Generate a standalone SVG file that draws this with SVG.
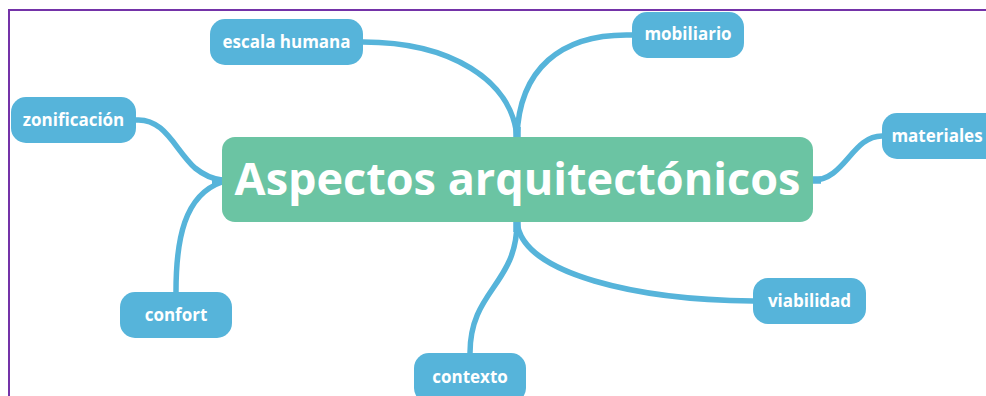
<svg xmlns="http://www.w3.org/2000/svg" width="986" height="396" viewBox="0 0 986 396">
<style>
.frame{stroke:#7433a8;stroke-width:2;fill:none}
.conn{fill:none;stroke:#56b4da;stroke-width:5.5;stroke-linecap:round}
.root{fill:none;stroke:#56b4da;stroke-width:7.5;stroke-linecap:butt}
.sub rect{fill:#56b4da}
.sub text{fill:#ffffff;font-family:"Open Sans","Noto Sans",sans-serif;font-weight:bold;font-size:17px;text-anchor:middle}
#central rect{fill:#6bc4a3}
#central text{fill:#ffffff;font-family:"Open Sans","Noto Sans",sans-serif;font-weight:bold;font-size:45px;text-anchor:middle}
</style>
<rect width="986" height="396" fill="#ffffff"/>
<path class="frame" d="M9,396 V10 H986"/>
<g id="connectors">
<path class="conn" d="M363,42 C450,42 512,80 517,137"/>
<path class="conn" d="M632,35 C560,33 519,70 517,137"/>
<path class="conn" d="M136,120 C165,118 175,150 195,168 C205,176 212,179 222,180"/>
<path class="conn" d="M176,292 C176,240 184,195 222,182"/>
<path class="conn" d="M813,180 C845,180 852,136 882,136"/>
<path class="conn" d="M517,222 C517,285 470,290 470,353"/>
<path class="conn" d="M517,222 C522,275 640,300 753,301"/>
<path class="root" d="M517,127 V137 M517,222 V232 M212,181 H222 M813,180 H821"/>
</g>
<g id="central">
<rect x="222" y="137" width="591" height="85" rx="13"/>
<text x="517.5" y="195">Aspectos arquitectónicos</text>
</g>
<g id="escala" class="sub">
<rect x="210" y="19" width="153" height="46" rx="15"/>
<text x="286.5" y="48">escala humana</text>
</g>
<g id="mobiliario" class="sub">
<rect x="632" y="12" width="112" height="46" rx="15"/>
<text x="688" y="40">mobiliario</text>
</g>
<g id="zonificacion" class="sub">
<rect x="11" y="97" width="125" height="46" rx="15"/>
<text x="73.5" y="126">zonificación</text>
</g>
<g id="materiales" class="sub">
<rect x="882" y="113" width="120" height="46" rx="15"/>
<text x="937" y="142">materiales</text>
</g>
<g id="confort" class="sub">
<rect x="120" y="292" width="112" height="46" rx="15"/>
<text x="176" y="321">confort</text>
</g>
<g id="viabilidad" class="sub">
<rect x="753" y="278" width="113" height="46" rx="15"/>
<text x="809.5" y="307">viabilidad</text>
</g>
<g id="contexto" class="sub">
<rect x="414" y="353" width="112" height="50" rx="15"/>
<text x="470" y="383">contexto</text>
</g>
</svg>
